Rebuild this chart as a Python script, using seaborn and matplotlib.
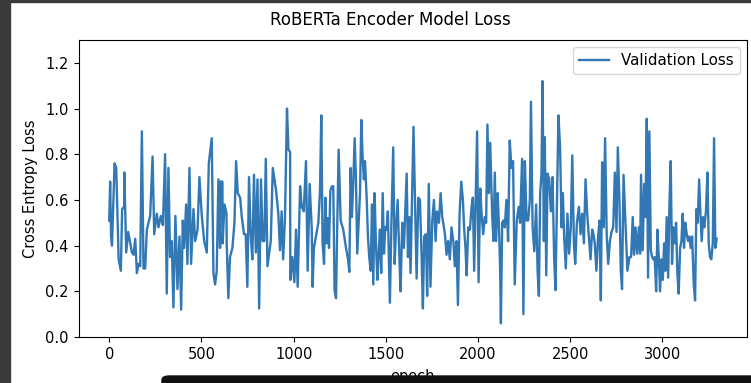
import matplotlib
matplotlib.use("Agg")
import matplotlib.pyplot as plt
from matplotlib.patches import Rectangle, FancyBboxPatch
import pandas as pd
import seaborn as sns

# validation loss (epoch, loss)
epochs = [
    0, 5, 10, 15, 29, 38, 51, 63, 70, 81, 82, 92, 103, 114, 123, 132, 141, 150, 159, 168,
    177, 186, 195, 204, 222, 235, 244, 258, 267, 280, 291, 303, 312, 321, 330, 339, 348, 359,
    370, 381, 390, 399, 406, 417, 424, 435, 444, 457, 466, 479, 489, 502, 515, 529, 540,
    556, 565, 574, 583, 592, 601, 602, 614, 615, 625, 636, 637, 646, 655, 668, 679, 688, 697,
    710, 719, 731, 740, 749, 758, 767, 776, 785, 795, 804, 813, 823, 832, 841, 849, 858, 867,
    876, 887, 896, 905, 917, 926, 935, 943, 953, 964, 972, 981, 982, 993, 1004, 1013, 1022,
    1035, 1044, 1055, 1067, 1076, 1087, 1098, 1103,
    1110, 1121, 1134, 1143, 1150, 1157, 1165, 1172, 1179, 1185, 1192, 1199, 1208, 1215, 1222,
    1230, 1237, 1244, 1255, 1269, 1284, 1295, 1302, 1309, 1316, 1324, 1331, 1338, 1345, 1353,
    1360, 1367, 1374, 1381, 1387, 1396, 1403, 1410, 1418, 1425, 1432, 1439, 1446, 1454, 1461,
    1468, 1475, 1483, 1490, 1497, 1504, 1511, 1522, 1531, 1540, 1548, 1555, 1564, 1573, 1580,
    1589, 1598, 1605, 1613, 1620, 1627, 1634, 1650,
    1667, 1676, 1685, 1694, 1701, 1708, 1717, 1724, 1733, 1742, 1752, 1761, 1770, 1777, 1788,
    1797, 1806, 1815, 1822, 1829, 1838, 1847, 1856, 1867, 1874, 1883, 1891, 1900, 1909, 1918,
    1925, 1932, 1938, 1947, 1956, 1965, 1972, 1979, 1988, 1995, 2003, 2012, 2019, 2028, 2037,
    2044, 2051, 2059, 2066, 2077, 2084, 2091, 2098, 2106, 2113, 2120, 2124, 2131, 2138, 2145,
    2154, 2163, 2172, 2181, 2190, 2199, 2210, 2221, 2228, 2239, 2246,
    2254, 2263, 2272, 2281, 2287, 2296, 2305, 2315, 2323, 2330, 2337, 2344, 2350, 2357, 2362,
    2370, 2377, 2386, 2395, 2404, 2413, 2420, 2429, 2436, 2445, 2453, 2460, 2467, 2476, 2485,
    2494, 2503, 2511, 2520, 2527, 2536, 2547, 2556, 2565, 2574, 2583, 2592, 2601, 2610, 2619,
    2626, 2633, 2642, 2651, 2659, 2666, 2673, 2682, 2689, 2698, 2706, 2715, 2724, 2733, 2742,
    2751, 2758, 2767, 2774, 2781, 2789, 2799, 2810, 2821,
    2830, 2839, 2846, 2854, 2863, 2872, 2879, 2884, 2893, 2901, 2908, 2915, 2922, 2929, 2937,
    2944, 2951, 2958, 2966, 2973, 2980, 2987, 2994, 3002, 3009, 3016, 3023, 3031, 3038, 3045,
    3052, 3059, 3067, 3074, 3081, 3088, 3096, 3103, 3110, 3117, 3124, 3132, 3139, 3146, 3153,
    3161, 3170, 3177, 3184, 3191, 3199, 3206, 3213, 3220, 3227, 3236, 3244, 3251, 3258, 3265,
    3273, 3280, 3287, 3294,
]
val_loss = [
    0.51, 0.68, 0.44, 0.40, 0.76, 0.74, 0.34, 0.29, 0.56, 0.57, 0.72, 0.37, 0.46, 0.41, 0.37, 0.36, 0.43, 0.28, 0.32, 0.31,
    0.90, 0.30, 0.30, 0.47, 0.53, 0.79, 0.45, 0.54, 0.48, 0.53, 0.49, 0.80, 0.19, 0.74, 0.35, 0.42, 0.13, 0.53,
    0.21, 0.44, 0.12, 0.51, 0.39, 0.58, 0.32, 0.74, 0.32, 0.56, 0.42, 0.47, 0.70, 0.53, 0.42, 0.37, 0.76,
    0.87, 0.28, 0.23, 0.29, 0.69, 0.39, 0.68, 0.68, 0.41, 0.58, 0.54, 0.41, 0.17, 0.35, 0.39, 0.50, 0.77, 0.63,
    0.61, 0.525, 0.45, 0.45, 0.22, 0.70, 0.45, 0.34, 0.71, 0.37, 0.69, 0.125, 0.69, 0.42, 0.42, 0.78, 0.31, 0.365,
    0.42, 0.74, 0.69, 0.64, 0.54, 0.38, 0.55, 0.34, 0.52, 1.00, 0.82, 0.81, 0.25, 0.35, 0.24, 0.47, 0.22,
    0.66, 0.57, 0.55, 0.77, 0.29, 0.67, 0.48, 0.22,
    0.39, 0.44, 0.50, 0.64, 0.97, 0.41, 0.32, 0.61, 0.41, 0.52, 0.39, 0.64, 0.66, 0.66, 0.205,
    0.17, 0.51, 0.82, 0.51, 0.47, 0.39, 0.34, 0.285, 0.74, 0.525, 0.69, 0.87, 0.69, 0.365, 0.51,
    0.63, 0.95, 0.79, 0.69, 0.77, 0.61, 0.44, 0.35, 0.29, 0.58, 0.23, 0.63, 0.42, 0.25, 0.365,
    0.47, 0.28, 0.63, 0.365, 0.48, 0.47, 0.55, 0.15, 0.525, 0.83, 0.32, 0.47, 0.60, 0.36, 0.20,
    0.50, 0.39, 0.54, 0.715, 0.35, 0.525, 0.28, 0.92,
    0.256, 0.61, 0.60, 0.35, 0.125, 0.44, 0.45, 0.18, 0.67, 0.22, 0.51, 0.60, 0.42, 0.55, 0.50,
    0.63, 0.525, 0.48, 0.44, 0.36, 0.42, 0.34, 0.48, 0.41, 0.31, 0.42, 0.14, 0.54, 0.68, 0.60,
    0.47, 0.39, 0.27, 0.48, 0.47, 0.57, 0.61, 0.29, 0.63, 0.90, 0.24, 0.65, 0.54, 0.45, 0.525,
    0.50, 0.93, 0.63, 0.85, 0.525, 0.42, 0.72, 0.42, 0.63, 0.50, 0.29, 0.06, 0.50, 0.51, 0.48,
    0.60, 0.42, 0.86, 0.74, 0.77, 0.23, 0.51, 0.57, 0.50, 0.78, 0.10,
    0.77, 0.51, 0.51, 0.60, 1.03, 0.48, 0.375, 0.58, 0.29, 0.18, 0.63, 0.715, 1.12, 0.42, 0.875,
    0.27, 0.715, 0.69, 0.55, 0.70, 0.34, 0.205, 0.63, 0.97, 0.83, 0.48, 0.63, 0.44, 0.30, 0.54,
    0.365, 0.48, 0.795, 0.41, 0.32, 0.50, 0.57, 0.45, 0.54, 0.41, 0.69, 0.54, 0.44, 0.34, 0.47,
    0.45, 0.41, 0.29, 0.44, 0.51, 0.16, 0.765, 0.48, 0.87, 0.44, 0.32, 0.42, 0.46, 0.48, 0.72,
    0.46, 0.83, 0.60, 0.29, 0.21, 0.71, 0.51, 0.29, 0.35,
    0.35, 0.525, 0.36, 0.48, 0.365, 0.48, 0.365, 0.71, 0.38, 0.67, 0.525, 0.955, 0.26, 0.90, 0.38,
    0.35, 0.34, 0.35, 0.20, 0.47, 0.35, 0.20, 0.34, 0.25, 0.41, 0.29, 0.525, 0.26, 0.58, 0.77,
    0.32, 0.48, 0.41, 0.50, 0.28, 0.19, 0.39, 0.42, 0.54, 0.39, 0.50, 0.45, 0.42, 0.44, 0.39,
    0.44, 0.23, 0.16, 0.56, 0.50, 0.69, 0.54, 0.42, 0.525, 0.48, 0.55, 0.72, 0.41, 0.35, 0.34,
    0.41, 0.87, 0.39, 0.43,
]

df = pd.DataFrame({"epoch": epochs, "loss": val_loss})

fig = plt.figure(figsize=(7.51, 3.83), dpi=100)
ax = fig.add_axes([0.105, 0.12, 0.8897, 0.7756])

sns.lineplot(data=df, x="epoch", y="loss", ax=ax, color="#3178b5", linewidth=1.7,
             estimator=None, sort=False, label="Validation Loss")

ax.set_ylim(0, 1.3)
ax.set_yticks([0.0, 0.2, 0.4, 0.6, 0.8, 1.0, 1.2])
ax.set_xticks([0, 500, 1000, 1500, 2000, 2500, 3000])
ax.set_title("RoBERTa Encoder Model Loss", fontsize=12, x=0.466, pad=11)
ax.set_xlabel("epoch", fontsize=10.5, labelpad=5)
ax.set_ylabel("Cross Entropy Loss", fontsize=10.5, labelpad=5)
ax.tick_params(labelsize=10.5, pad=4)
ax.legend(loc="upper right", fontsize=10.8)

# dark screenshot frame around the notebook output
fig.patches.append(Rectangle((0, 0), 10 / 751, 1, transform=fig.transFigure,
                             color="#3a3a3a", zorder=10))
fig.patches.append(Rectangle((0, 1 - 2 / 383), 1, 2 / 383, transform=fig.transFigure,
                             color="#3a3a3a", zorder=10))
fig.patches.append(FancyBboxPatch((162 / 751, -10 / 383), 600 / 751, 17 / 383,
                                  boxstyle="round,pad=0,rounding_size=0.01",
                                  transform=fig.transFigure, color="#111111", zorder=10))

fig.savefig("out.png", dpi=100)
